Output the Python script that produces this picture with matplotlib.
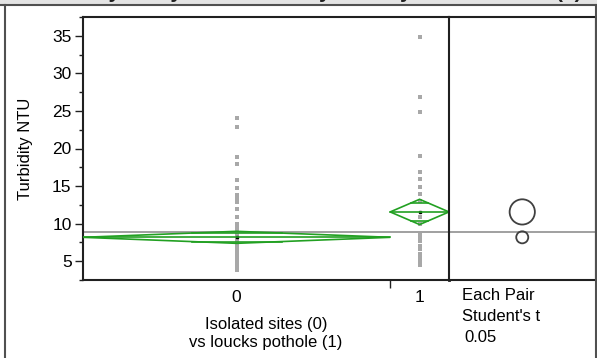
import numpy as np
import matplotlib
matplotlib.use('Agg')
from matplotlib import pyplot as plt
from matplotlib.patches import Polygon, Ellipse, Rectangle
from matplotlib.lines import Line2D

plt.rcParams['font.family'] = ['Liberation Sans', 'DejaVu Sans']

# data
group_labels = ['0', '1']
group_n = [47, 9]
turbidity_0 = [24.0, 22.8, 18.9, 17.9, 15.8, 14.8, 13.8, 13.4, 12.9, 11.9, 10.9, 9.9,
               9.5, 9.2, 9.0, 8.8, 8.6, 8.4, 8.2, 8.0, 7.8, 7.6, 7.4, 7.2, 7.0, 6.8,
               6.6, 6.4, 6.2, 6.0, 5.8, 5.6, 5.4, 5.2, 5.0, 4.8, 4.6, 4.4, 4.2, 4.0, 3.8]
turbidity_1 = [34.9, 26.9, 24.9, 19.0, 16.9, 15.9, 14.9, 13.9, 13.0, 10.9, 9.9,
               8.5, 8.3, 8.1, 7.9, 7.7, 7.0, 6.8, 6.6, 5.9, 5.7, 5.5, 5.3, 5.1, 4.9, 4.7, 4.5]
group_means = [8.18, 11.56]
ci_half = [0.80, 1.68]
grand_mean = 8.84
yticks = [5, 10, 15, 20, 25, 30, 35]

title = 'Oneway Analysis of Turbidity NTU By Isolated sites (0) vs loucks pothole (1)'
xlabel = 'Isolated sites (0)\nvs loucks pothole (1)'
ylabel = 'Turbidity NTU'
panel_text = ['Each Pair', "Student's t", '0.05']

W, H = 597, 358
fig = plt.figure(figsize=(W / 100, H / 100), dpi=100)

green = '#22a022'
ptgray = '#a8a8a8'

# outer window frame (title bar is cut off at the top, as in the screenshot)
fig.patches.append(Rectangle((0, 1 - 5 / H), 1, 5 / H, transform=fig.transFigure,
                             facecolor='#e4e4e4', edgecolor='none', zorder=0))
fig.lines.append(Line2D([0, 1], [1 - 5 / H] * 2, transform=fig.transFigure, color='#505050', lw=1.5))
fig.lines.append(Line2D([5 / W] * 2, [0, 1 - 5 / H], transform=fig.transFigure, color='#505050', lw=1.5))
fig.lines.append(Line2D([596 / W] * 2, [0, 1 - 5 / H], transform=fig.transFigure, color='#505050', lw=1.5))
fig.text(40 / W, 1 + 2 / H, title, fontsize=15, fontweight='bold', va='baseline', color='#202020')

left, right, bottom, top = 83, 449, 280, 17
ax = fig.add_axes([left / W, 1 - bottom / H, (right - left) / W, (bottom - top) / H])
ax2 = fig.add_axes([right / W, 1 - bottom / H, (595.5 - right) / W, (bottom - top) / H])

ylim = (2.5, 37.5)
ntot = sum(group_n)
edges = np.concatenate([[0], np.cumsum(group_n)])
centers = (edges[:-1] + edges[1:]) / 2

# grand mean line across both panels
ax.axhline(grand_mean, color='#909090', lw=1.2, zorder=1)
ax2.axhline(grand_mean, color='#909090', lw=1.2, zorder=1)

# points
for xc, vals in zip(centers, [turbidity_0, turbidity_1]):
    ax.plot([xc] * len(vals), vals, ls='none', marker='s', ms=2.6, mfc=ptgray, mec=ptgray,
            mew=0, zorder=2)

# means diamonds
for i in range(2):
    x0, x1, xc = edges[i], edges[i + 1], centers[i]
    m, h = group_means[i], ci_half[i]
    ax.plot([xc], [m], marker='s', ms=2, color='black', zorder=2.5)
    ax.add_patch(Polygon([[x0, m], [xc, m + h], [x1, m], [xc, m - h]], closed=True,
                         fill=False, edgecolor=green, lw=1.2, zorder=3))
    ax.plot([x0, x1], [m, m], color=green, lw=1.2, zorder=3)
    k = 1 / np.sqrt(2)
    half = (1 - k) * (x1 - x0) / 2
    for s in (1, -1):
        ax.plot([xc - half, xc + half], [m + s * h * k] * 2, color=green, lw=1.2, zorder=3)

ax.set_xlim(0, ntot)
ax.set_ylim(*ylim)
ax.set_yticks(yticks)
ax.set_yticks(np.arange(2.5, 37.6, 2.5), minor=True)
ax.tick_params(axis='y', which='major', length=6, width=1, pad=2.2, labelsize=12.5, color='#202020')
ax.tick_params(axis='y', which='minor', length=3, width=1, color='#202020')
ax.set_xticks([edges[1]])
ax.set_xticklabels([''])
ax.set_xticks(centers, minor=True)
ax.set_xticklabels(group_labels, minor=True)
ax.tick_params(axis='x', which='major', length=6, width=1, color='#202020')
ax.tick_params(axis='x', which='minor', length=0, pad=7, labelsize=12.5)
for sp in ax.spines.values():
    sp.set_linewidth(1.5)
    sp.set_color('#202020')
ax.spines['right'].set_linewidth(2)
ax.set_ylabel(ylabel, fontsize=12, labelpad=14)
fig.text((left + right) / 2 / W, 1 - 334 / H, xlabel, fontsize=12, ha='center', va='center',
         linespacing=1.25)

# comparison circles
ax2.set_xlim(0, 1)
ax2.set_ylim(*ylim)
ax2.set_xticks([])
ax2.set_yticks([])
for sp in ax2.spines.values():
    sp.set_linewidth(1.5)
    sp.set_color('#202020')
px_per_unit = (bottom - top) / (ylim[1] - ylim[0])
ax2_w = 595.5 - right
for m, r in zip(group_means, ci_half):
    ax2.add_patch(Ellipse((0.5, m), 2 * r * px_per_unit / ax2_w, 2 * r,
                          fill=False, edgecolor='#404040', lw=1.3, zorder=3))

for i, t in enumerate(panel_text):
    fig.text((462 + (2 if i == 2 else 0)) / W, 1 - (295 + 21.5 * i) / H, t, fontsize=12,
             va='center', ha='left')

fig.savefig('out.png', dpi=100)
